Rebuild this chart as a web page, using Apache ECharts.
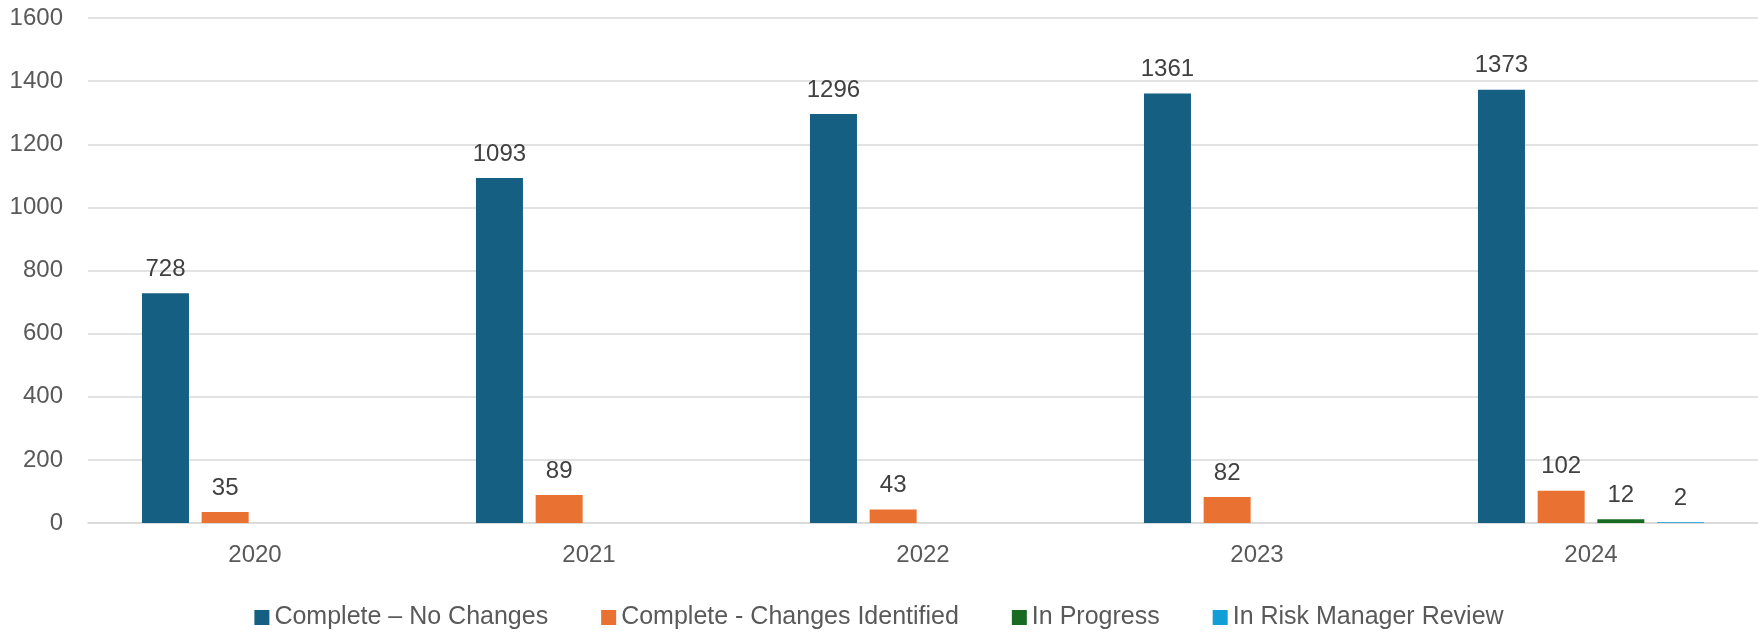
<!DOCTYPE html>
<html>
<head>
<meta charset="utf-8">
<script src="https://cdn.jsdelivr.net/npm/echarts@6/dist/echarts.min.js"></script>
<style>
html,body{margin:0;padding:0;background:#fff;}
#chart{width:1758px;height:632px;}
</style>
</head>
<body>
<div id="chart"></div>
<script>
const categories = ['2020', '2021', '2022', '2023', '2024'];
const seriesNames = ['Complete – No Changes', 'Complete - Changes Identified', 'In Progress', 'In Risk Manager Review'];
const noChanges = [728, 1093, 1296, 1361, 1373];
const changesIdentified = [35, 89, 43, 82, 102];
const inProgress = [null, null, null, null, 12];
const inReview = [null, null, null, null, 2];
const yTicks = { min: 0, max: 1600, interval: 200 };
const colors = ['#156082', '#E97132', '#196B24', '#0F9ED5'];

const font = 'Liberation Sans, Arial, sans-serif';
const values = [noChanges, changesIdentified, inProgress, inReview];

const chart = echarts.init(document.getElementById('chart'), null, { renderer: 'canvas' });
chart.setOption({
  animation: false,
  color: colors,
  textStyle: { fontFamily: font },
  grid: { left: 88, right: 0, top: 18, bottom: 109, containLabel: false },
  legend: {
    top: 600,
    left: 'center',
    itemWidth: 15,
    itemHeight: 15,
    itemGap: 53,
    icon: 'rect',
    textStyle: { fontSize: 25, color: '#595959', fontFamily: font },
    data: seriesNames
  },
  xAxis: {
    type: 'category',
    data: categories,
    axisLine: { show: true, lineStyle: { color: '#D9D9D9', width: 1.5 } },
    axisTick: { show: false },
    axisLabel: { fontSize: 24, color: '#595959', margin: 20, fontFamily: font }
  },
  yAxis: {
    type: 'value',
    min: yTicks.min,
    max: yTicks.max,
    interval: yTicks.interval,
    axisLine: { show: false },
    axisTick: { show: false },
    splitLine: { lineStyle: { color: '#D9D9D9', width: 1.5 } },
    axisLabel: { fontSize: 24, color: '#595959', margin: 25, fontFamily: font, formatter: v => String(v) }
  },
  series: seriesNames.map((name, i) => ({
    name: name,
    type: 'bar',
    data: values[i],
    barWidth: 47,
    barGap: '27%',
    itemStyle: { color: colors[i] },
    label: {
      show: true,
      position: 'top',
      distance: 12,
      fontSize: 24,
      color: '#404040',
      fontFamily: font
    }
  }))
});
</script>
</body>
</html>
